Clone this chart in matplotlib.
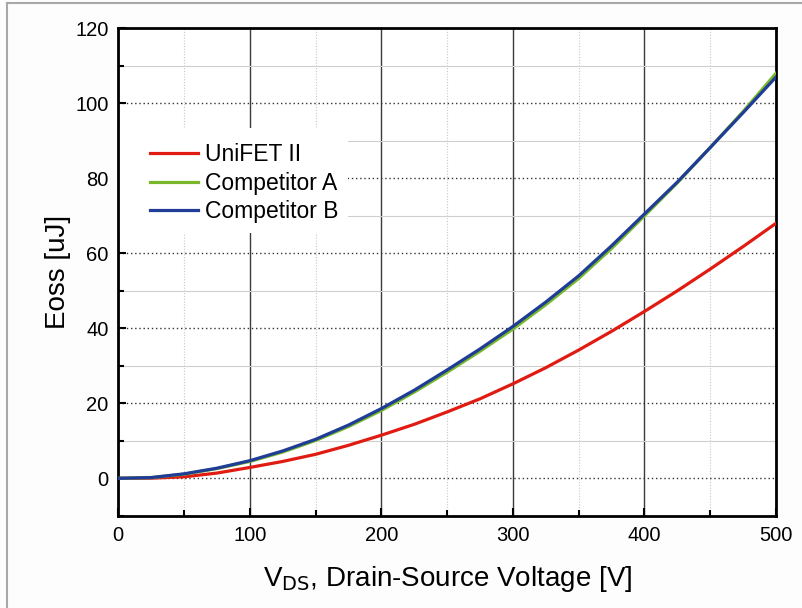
import matplotlib.pyplot as plt
from matplotlib.lines import Line2D
from matplotlib.patches import Rectangle
from matplotlib.ticker import MultipleLocator

plt.rcParams['font.family'] = ['Liberation Sans', 'DejaVu Sans']

# drain-source voltage [V]
vds = [0, 25, 50, 75, 100, 125, 150, 175, 200, 225, 250,
       275, 300, 325, 350, 375, 400, 425, 450, 475, 500]

# Eoss [uJ]
unifet = [0, 0.05, 0.4, 1.4, 2.9, 4.5, 6.4, 8.8, 11.5, 14.4, 17.7,
          21.2, 25.2, 29.5, 34.2, 39.2, 44.5, 50.0, 55.8, 61.8, 68.0]
comp_a = [0, 0.2, 1.1, 2.6, 4.5, 7.0, 10.1, 13.8, 18.1, 23.0, 28.3,
          33.9, 39.8, 46.3, 53.3, 61.3, 70.0, 78.8, 88.2, 97.8, 108.0]
comp_b = [0, 0.2, 1.2, 2.7, 4.7, 7.3, 10.4, 14.2, 18.6, 23.5, 28.9,
          34.5, 40.5, 47.0, 54.0, 62.0, 70.5, 79.0, 88.2, 97.5, 107.0]

series = ['UniFET II', 'Competitor A', 'Competitor B']
colors = ['#e01b12', '#78b82a', '#1f3c96']

fig = plt.figure(figsize=(8.03, 6.08), dpi=100)
fig.patch.set_facecolor('#fdfdfd')
ax = fig.add_axes([0.1473, 0.1516, 0.8191, 0.8019])

for y, lab, c in zip([unifet, comp_a, comp_b], series, colors):
    ax.plot(vds, y, color=c, lw=2.3, label=lab, zorder=3,
            solid_joinstyle='round')

ax.set_xlim(0, 500)
ax.set_ylim(-10, 120)
ax.xaxis.set_major_locator(MultipleLocator(100))
ax.xaxis.set_minor_locator(MultipleLocator(50))
ax.yaxis.set_major_locator(MultipleLocator(20))
ax.yaxis.set_minor_locator(MultipleLocator(10))

# grid: solid verticals / dotted horizontals
ax.grid(which='major', axis='x', color='#3a3a3a', lw=1.0, ls='-')
ax.grid(which='minor', axis='x', color='#c8c8c8', lw=0.8, ls=(0, (1, 1.5)))
ax.grid(which='major', axis='y', color='#333333', lw=1.0, ls=(0, (1, 2)))
ax.grid(which='minor', axis='y', color='#cfcfcf', lw=0.8, ls='-')
ax.set_axisbelow(True)

ax.tick_params(which='both', direction='in', top=False, right=False,
               labelsize=14.5, width=1.5, pad=7)
ax.tick_params(which='major', length=6)
ax.tick_params(which='minor', length=4)
for s in ax.spines.values():
    s.set_linewidth(2.0)
    s.set_color('black')

ax.set_xlabel(r'V$_{\rm DS}$, Drain-Source Voltage [V]', fontsize=20, labelpad=14)
ax.set_ylabel('Eoss [uJ]', fontsize=20, labelpad=3)

# white block behind the legend, hides the grid from the left spine on
ax.add_patch(Rectangle((0, 0.58), 0.349, 0.215, transform=ax.transAxes,
                       facecolor='white', edgecolor='none', zorder=2.5))
leg = ax.legend(loc='upper left', bbox_to_anchor=(0.017, 0.807), fontsize=16.5,
                handlelength=2.1, handletextpad=0.3, labelspacing=0.25,
                borderpad=0.9, borderaxespad=0.0, frameon=False)
leg.set_zorder(4)

# picture frame (left and top edges only)
fig.add_artist(Line2D([0.009, 0.009], [0.0, 0.995], transform=fig.transFigure,
                      color='#a8a8a8', lw=1.5))
fig.add_artist(Line2D([0.009, 1.0], [0.995, 0.995], transform=fig.transFigure,
                      color='#a8a8a8', lw=1.5))

fig.savefig('out.png', dpi=100, facecolor=fig.get_facecolor())
